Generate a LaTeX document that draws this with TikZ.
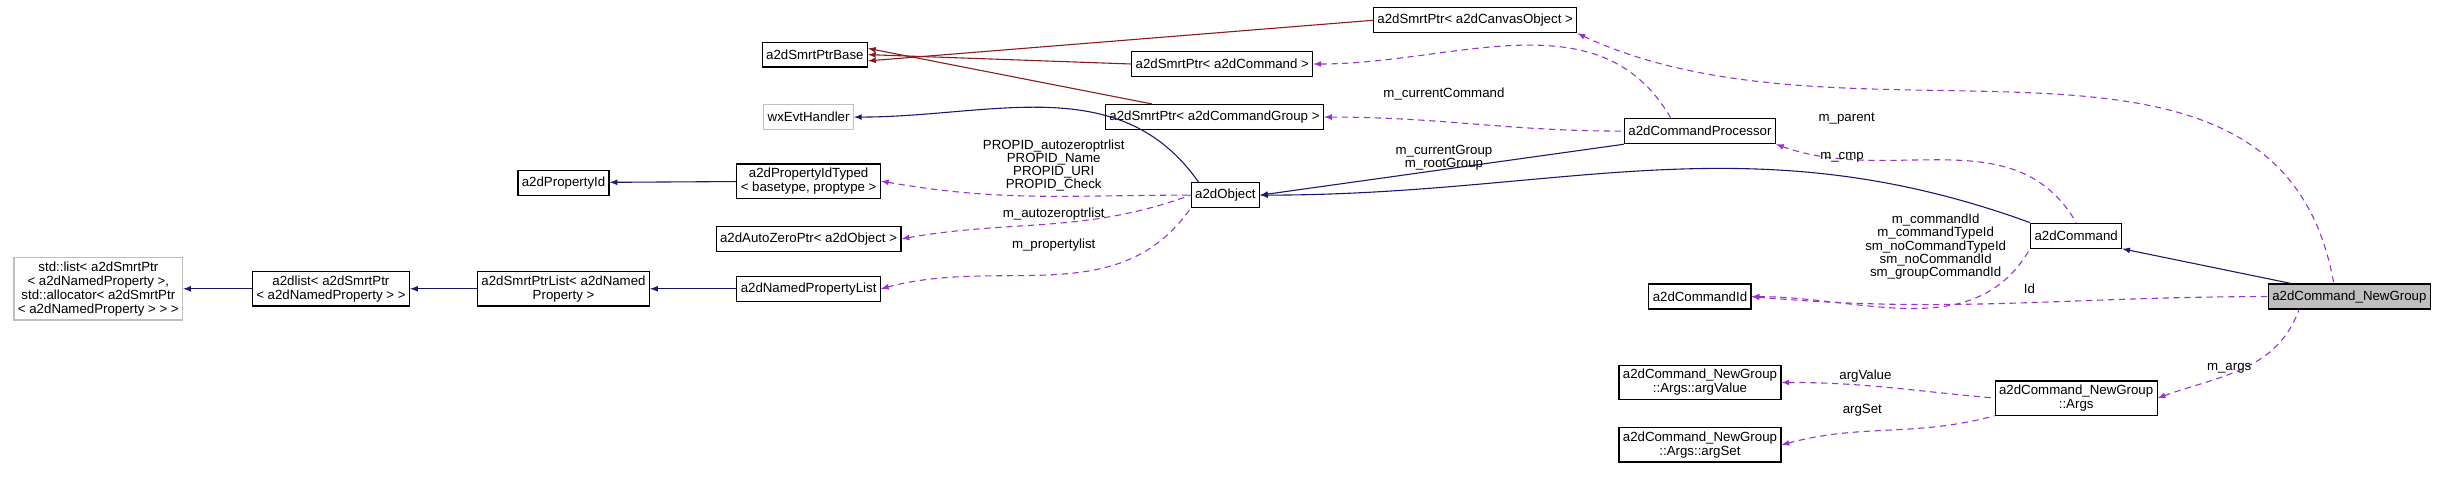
\documentclass[tikz,border=0pt]{standalone}
\usepackage{fontspec}
\setmainfont{Liberation Sans}
\usetikzlibrary{arrows}
\definecolor{inhBlue}{RGB}{25,25,112}
\definecolor{inhRed}{RGB}{139,26,26}
\definecolor{usePurple}{RGB}{154,50,205}
\tikzstyle{cls} = [rectangle, draw, line width=0.8pt, inner sep=2.5pt,
    minimum height=16pt, align=center, font=\fontsize{8.5}{9}\selectfont]
\tikzstyle{ext} = [cls, draw=gray!50]
\tikzstyle{me} = [cls, fill=gray!50]
\tikzstyle{inh} = [draw, latex-, line width=0.7pt, color=inhBlue]
\tikzstyle{inhr} = [draw, latex-, line width=0.7pt, color=inhRed]
\tikzstyle{use} = [draw, latex-, line width=0.7pt, dash pattern=on 4pt off 3pt, color=usePurple]
\tikzstyle{lbl} = [align=center, inner sep=0pt, font=\fontsize{8.5}{8.5}\selectfont]

\begin{document}
\begin{tikzpicture}[x=1pt, y=-1pt]
      \useasboundingbox (0,0) rectangle (1565,307);
      % Place nodes
      \node [cls] (ptrBase) at (522,35) {a2dSmrtPtrBase};
      \node [cls] (ptrCanvas) at (945,13) {a2dSmrtPtr< a2dCanvasObject >};
      \node [cls] (ptrCmd) at (783,41) {a2dSmrtPtr< a2dCommand >};
      \node [cls] (ptrGroup) at (778,75) {a2dSmrtPtr< a2dCommandGroup >};
      \node [ext] (evtHandler) at (518,75) {wxEvtHandler};
      \node [cls] (cmdProc) at (1089,84) {a2dCommandProcessor};
      \node [cls] (propId) at (361,117) {a2dPropertyId};
      \node [cls] (propIdTyped) at (518,116) {a2dPropertyIdTyped\\< basetype, proptype >};
      \node [cls] (object) at (785,125) {a2dObject};
      \node [cls] (autoZero) at (518,153) {a2dAutoZeroPtr< a2dObject >};
      \node [cls] (command) at (1330,151) {a2dCommand};
      \node [ext] (stdList) at (63,185) {std::list< a2dSmrtPtr\\< a2dNamedProperty >,\\ std::allocator< a2dSmrtPtr\\< a2dNamedProperty > > >};
      \node [cls] (list) at (212,185) {a2dlist< a2dSmrtPtr\\< a2dNamedProperty > >};
      \node [cls] (ptrList) at (361,185) {a2dSmrtPtrList< a2dNamed\\Property >};
      \node [cls] (namedList) at (518,185) {a2dNamedPropertyList};
      \node [cls] (cmdId) at (1089,190) {a2dCommandId};
      \node [me] (newGroup) at (1505,190) {a2dCommand\_NewGroup};
      \node [cls] (argValue) at (1089,245) {a2dCommand\_NewGroup\\::Args::argValue};
      \node [cls] (args) at (1330,255) {a2dCommand\_NewGroup\\::Args};
      \node [cls] (argSet) at (1089,285) {a2dCommand\_NewGroup\\::Args::argSet};

      % Draw edges
      \path [inhr] ([yshift=-4pt]ptrBase.east) -- (ptrCanvas.west);
      \path [inhr] (ptrBase.east) -- (ptrCmd.west);
      \path [inhr] ([yshift=4pt]ptrBase.east) -- ([xshift=-40pt]ptrGroup.north);
      \path [inh] (propId) -- (propIdTyped);
      \path [inh] (evtHandler.east) to[out=0, in=125] ([xshift=5pt]object.north west);
      \path [inh] (object.east) -- (cmdProc.south west);
      \path [inh] (object.east) to[out=0, in=160] (command.north west);
      \path [inh] (command.south east) -- ([xshift=15pt]newGroup.north west);
      \path [inh] (stdList) -- (list);
      \path [inh] (list) -- (ptrList);
      \path [inh] (ptrList) -- (namedList);

      \path [use] (propIdTyped.east) to[out=-10, in=180] (object.west);
      \path [use] (autoZero.east) to[out=10, in=200] (object.west);
      \path [use] (namedList.east) to[out=15, in=235] (object.south west);
      \path [use] (ptrCmd.east) to[out=0, in=120] ([xshift=30pt]cmdProc.north west);
      \path [use] (ptrGroup.east) to[out=0, in=180] (cmdProc.west);
      \path [use] (cmdProc.south east) to[out=-20, in=120] (command.north);
      \path [use] (ptrCanvas.south east) to[out=-25, in=100] ([xshift=-10pt]newGroup.north);
      \path [use] (cmdId.east) to[out=0, in=-120] (command.south west);
      \path [use] (cmdId.east) to[out=-5, in=180] (newGroup.west);
      \path [use] (args.east) to[out=20, in=-110] ([xshift=20pt]newGroup.south west);
      \path [use] (argValue.east) to[out=0, in=175] (args.west);
      \path [use] (argSet.east) to[out=15, in=195] (args.south west);

      % Labels
      \node [lbl] (lProp) at (675,106) {PROPID\_autozeroptrlist\\PROPID\_Name\\PROPID\_URI\\PROPID\_Check};
      \node [lbl] (lAuto) at (675,137) {m\_autozeroptrlist};
      \node [lbl] (lNamed) at (675,157) {m\_propertylist};
      \node [lbl] (lCurCmd) at (925,60) {m\_currentCommand};
      \node [lbl] (lGroup) at (925,101) {m\_currentGroup\\m\_rootGroup};
      \node [lbl] (lCmp) at (1180,101) {m\_cmp};
      \node [lbl] (lParent) at (1183,76) {m\_parent};
      \node [lbl] (lCmdId) at (1240,158) {m\_commandId\\m\_commandTypeId\\sm\_noCommandTypeId\\sm\_noCommandId\\sm\_groupCommandId};
      \node [lbl] (lId) at (1300,185) {Id};
      \node [lbl] (lArgs) at (1428,236) {m\_args};
      \node [lbl] (lArgValue) at (1195,241) {argValue};
      \node [lbl] (lArgSet) at (1193,263) {argSet};
  \end{tikzpicture}
\end{document}
